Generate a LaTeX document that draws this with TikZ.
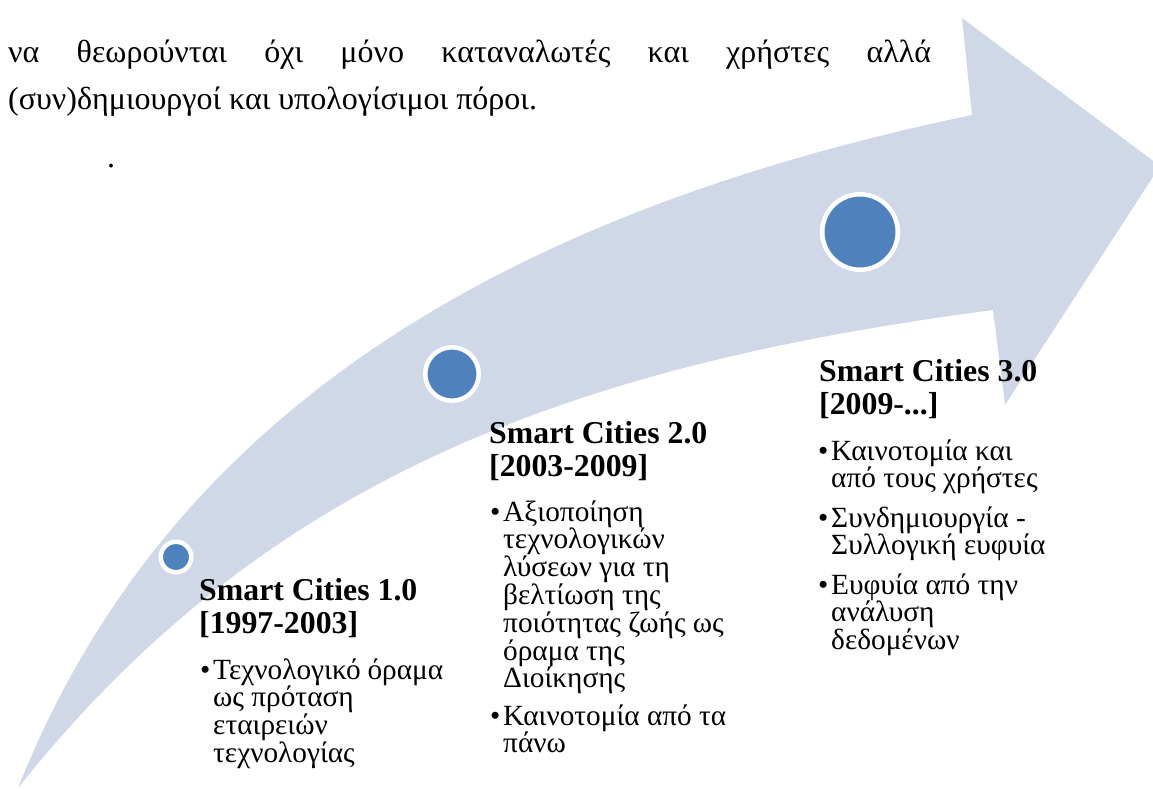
\documentclass[tikz,border=0pt]{standalone}
\usepackage{fontspec}
\setmainfont{Liberation Serif}
\definecolor{pfeilgrau}{RGB}{208,216,232}
\definecolor{punktblau}{RGB}{79,129,189}
\newcommand{\puce}[1]{\makebox[16pt][c]{•}\parbox[t]{230pt}{\raggedright\lineskiplimit=-\maxdimen #1}}

\begin{document}
\begin{tikzpicture}[x=1pt,y=-1pt]
	\tikzstyle{cercle}=[circle,draw=white,line width=4.5pt,fill=punktblau,inner sep=0pt]
	\tikzstyle{titre}=[anchor=base west,inner sep=0pt,font=\bfseries\fontsize{31.8}{33.5}\selectfont]
	\tikzstyle{liste}=[anchor=base west,inner sep=0pt,font=\fontsize{29.3}{27.8}\selectfont]
	\tikzstyle{texte}=[anchor=base west,inner sep=0pt,font=\fontsize{32}{44}\selectfont]
	\useasboundingbox (0,0) rectangle (1153,788);
	\clip (0,0) rectangle (1153,788);
	% la fleche courbe
	\fill[pfeilgrau] (18,788) .. controls (158,436) and (468,220) .. (972,115) -- (962,18) -- (1160,166) -- (1005,405) -- (993,310) .. controls (567,366) and (263,480) .. (18,788) -- cycle;
	% le texte au dessus
	\node[texte] (L2) at (8,62){\makebox[923pt][s]{να θεωρούνται όχι μόνο καταναλωτές και χρήστες αλλά}};
	\node[texte] (L3) at (8,109){(συν)δημιουργοί και υπολογίσιμοι πόροι.};
	\node[texte] (P) at (107,167){.};
	% les cercles
	\node[cercle,minimum size=30.5pt] (C1) at (176,557){};
	\node[cercle,minimum size=53.5pt] (C2) at (452,374){};
	\node[cercle,minimum size=75.5pt] (C3) at (860,232){};
	% les titres
	\node[titre] (T1) at (199,600){\begin{tabular}[t]{@{}l@{}}Smart Cities 1.0\\{}[1997-2003]\end{tabular}};
	\node[titre] (T2) at (489,443){\begin{tabular}[t]{@{}l@{}}Smart Cities 2.0\\{}[2003-2009]\end{tabular}};
	\node[titre] (T3) at (819,381){\begin{tabular}[t]{@{}l@{}}Smart Cities 3.0\\{}[2009-...]\end{tabular}};
	% les listes
	\node[liste] (P11) at (197,679){\puce{Τεχνολογικό όραμα\\ως πρόταση\\εταιρειών\\τεχνολογίας}};
	\node[liste] (P21) at (487,521){\puce{Αξιοποίηση\\τεχνολογικών\\λύσεων για τη\\βελτίωση της\\ποιότητας ζωής ως\\όραμα της\\Διοίκησης}};
	\node[liste] (P22) at (487,725){\puce{Καινοτομία από τα\\πάνω}};
	\node[liste] (P31) at (815,460){\puce{Καινοτομία και\\από τους χρήστες}};
	\node[liste] (P32) at (815,527){\puce{Συνδημιουργία -\\Συλλογική ευφυία}};
	\node[liste] (P33) at (815,594){\puce{Ευφυία από την\\ανάλυση\\δεδομένων}};
\end{tikzpicture}
\end{document}
